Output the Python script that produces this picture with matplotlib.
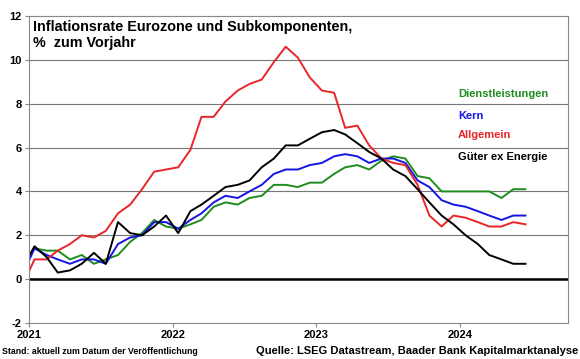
import numpy as np
import pandas as pd
import matplotlib
matplotlib.use('Agg')
import matplotlib.pyplot as plt
import matplotlib.dates as mdates

plt.rcParams['font.family'] = ['Liberation Sans', 'DejaVu Sans']
plt.rcParams['font.weight'] = 'bold'
plt.rcParams['axes.unicode_minus'] = False

# Monatswerte Dez 2020 bis Jun 2024, % zum Vorjahr
monate = pd.date_range('2020-12-01', '2024-06-01', freq='MS') + pd.Timedelta(days=14)

allgemein = [-0.3,
             0.9, 0.9, 1.3, 1.6, 2.0, 1.9, 2.2, 3.0, 3.4, 4.1, 4.9, 5.0,
             5.1, 5.9, 7.4, 7.4, 8.1, 8.6, 8.9, 9.1, 9.9, 10.6, 10.1, 9.2,
             8.6, 8.5, 6.9, 7.0, 6.1, 5.5, 5.3, 5.2, 4.3, 2.9, 2.4, 2.9,
             2.8, 2.6, 2.4, 2.4, 2.6, 2.5]
kern = [0.2,
        1.4, 1.1, 0.9, 0.7, 0.9, 0.9, 0.7, 1.6, 1.9, 2.0, 2.6, 2.6,
        2.3, 2.7, 3.0, 3.5, 3.8, 3.7, 4.0, 4.3, 4.8, 5.0, 5.0, 5.2,
        5.3, 5.6, 5.7, 5.6, 5.3, 5.5, 5.5, 5.3, 4.5, 4.2, 3.6, 3.4,
        3.3, 3.1, 2.9, 2.7, 2.9, 2.9]
dienst = [0.7,
          1.4, 1.3, 1.3, 0.9, 1.1, 0.7, 0.9, 1.1, 1.7, 2.1, 2.7, 2.4,
          2.3, 2.5, 2.7, 3.3, 3.5, 3.4, 3.7, 3.8, 4.3, 4.3, 4.2, 4.4,
          4.4, 4.8, 5.1, 5.2, 5.0, 5.4, 5.6, 5.5, 4.7, 4.6, 4.0, 4.0,
          4.0, 4.0, 4.0, 3.7, 4.1, 4.1]
gueter = [0.5,
          1.5, 1.0, 0.3, 0.4, 0.7, 1.2, 0.7, 2.6, 2.1, 2.0, 2.4, 2.9,
          2.1, 3.1, 3.4, 3.8, 4.2, 4.3, 4.5, 5.1, 5.5, 6.1, 6.1, 6.4,
          6.7, 6.8, 6.6, 6.2, 5.8, 5.5, 5.0, 4.7, 4.1, 3.5, 2.9, 2.5,
          2.0, 1.6, 1.1, 0.9, 0.7, 0.7]

gruen = '#1e8c1e'
blau = '#1414e6'
rot = '#e8262a'

fig = plt.figure(figsize=(5.8, 3.59), dpi=100)
ax = fig.add_axes([29/580, 1 - 323/359, 539/580, 307/359])

ax.plot(monate, dienst, color=gruen, lw=1.4)
ax.plot(monate, kern, color=blau, lw=1.4)
ax.plot(monate, allgemein, color=rot, lw=1.4)
ax.plot(monate, gueter, color='black', lw=1.4)

ax.set_ylim(-2, 12)
ax.set_yticks(np.arange(-2, 13, 2))
ax.set_xlim(pd.Timestamp('2021-01-01'), pd.Timestamp('2024-10-01'))
ax.xaxis.set_major_locator(mdates.YearLocator())
ax.xaxis.set_major_formatter(mdates.DateFormatter('%Y'))
# Gitterlinien ohne Nulllinie, die kommt extra in schwarz
for y in [2, 4, 6, 8, 10]:
    ax.axhline(y, color='#777777', lw=0.8, zorder=0)
ax.axhline(0, color='black', lw=1.8, zorder=1)
for s in ax.spines.values():
    s.set_color('#888888')
    s.set_linewidth(0.8)
ax.tick_params(axis='both', labelsize=8, length=3, width=0.8, color='#888888', pad=2)

ax.text(0.008, 0.987, 'Inflationsrate Eurozone und Subkomponenten,\n%  zum Vorjahr',
        transform=ax.transAxes, ha='left', va='top', fontsize=10.4, linespacing=1.2)

ax.text(0.796, 0.746, 'Dienstleistungen', color=gruen, transform=ax.transAxes, fontsize=8, va='center')
ax.text(0.796, 0.674, 'Kern', color=blau, transform=ax.transAxes, fontsize=8, va='center')
ax.text(0.796, 0.612, 'Allgemein', color=rot, transform=ax.transAxes, fontsize=8, va='center')
ax.text(0.796, 0.541, 'Güter ex Energie', color='black', transform=ax.transAxes, fontsize=8, va='center')

fig.text(2/580, 1 - 352/359, 'Stand: aktuell zum Datum der Veröffentlichung', fontsize=6.3, va='center')
fig.text(578/580, 1 - 351/359, 'Quelle: LSEG Datastream, Baader Bank Kapitalmarktanalyse',
         fontsize=8, ha='right', va='center')

fig.savefig('out.png', dpi=100)
